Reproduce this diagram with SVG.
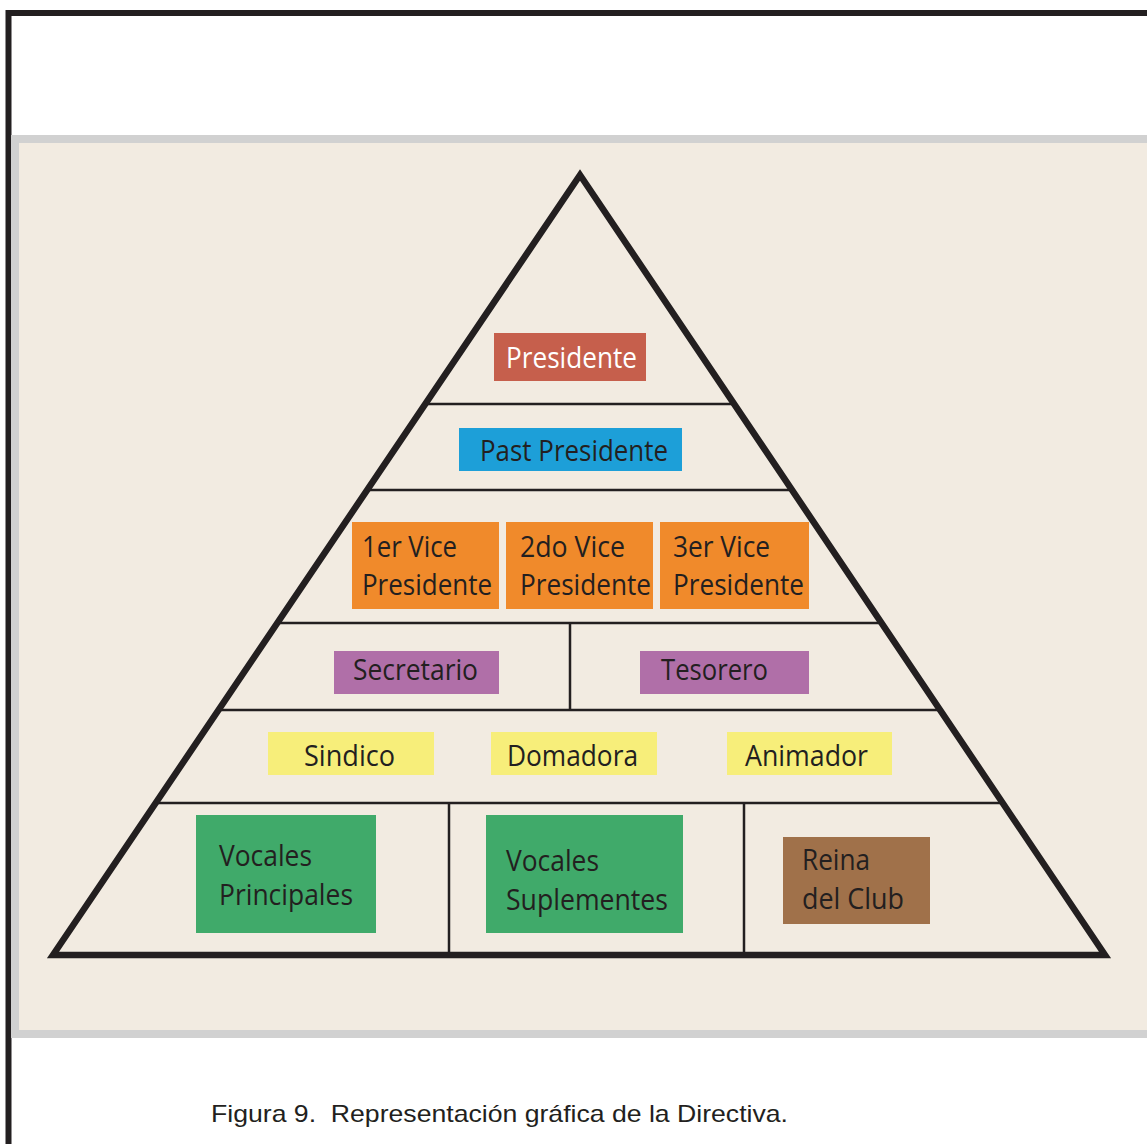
<svg xmlns="http://www.w3.org/2000/svg" width="1147" height="1144" viewBox="0 0 1147 1144">
<style>
.t{font-family:"Open Sans","Noto Sans",sans-serif;font-size:28.5px;fill:#231f20}
.w{fill:#ffffff}
.div{stroke:#231f20;stroke-width:2.5;fill:none}
.cap{font-family:"Liberation Sans",Arial,sans-serif;font-size:24px;fill:#231f20}
</style>
<rect x="0" y="0" width="1147" height="1144" fill="#ffffff"/>
<rect x="8.5" y="13" width="1160" height="1160" fill="#ffffff" stroke="#231f20" stroke-width="6"/>
<rect x="11" y="135" width="1136" height="903" fill="#d1d1d1"/>
<rect x="19" y="143" width="1128" height="887" fill="#f2ebe1"/>
<g id="connectors">
<line class="div" x1="427" y1="404" x2="732" y2="404"/>
<line class="div" x1="369" y1="490" x2="789" y2="490"/>
<line class="div" x1="280" y1="623" x2="879" y2="623"/>
<line class="div" x1="221" y1="710" x2="938" y2="710"/>
<line class="div" x1="158" y1="803" x2="1000" y2="803"/>
<line class="div" x1="570" y1="623" x2="570" y2="710"/>
<line class="div" x1="449" y1="803" x2="449" y2="955"/>
<line class="div" x1="744" y1="803" x2="744" y2="955"/>
<polygon points="580,175 53,955 1105,955" fill="none" stroke="#231f20" stroke-width="6.5" stroke-linejoin="miter"/>
</g>
<g id="presidente"><rect x="494" y="333" width="152" height="48" fill="#c65f4c"/><text class="t w" x="506" y="368" textLength="131" lengthAdjust="spacingAndGlyphs">Presidente</text></g>
<g id="past-presidente"><rect x="459" y="428" width="223" height="43" fill="#1d9fd8"/><text class="t" x="480" y="461" textLength="188" lengthAdjust="spacingAndGlyphs">Past Presidente</text></g>
<g id="vice1"><rect x="352" y="522" width="147" height="87" fill="#f08a2b"/><text class="t" x="362" y="557" textLength="95" lengthAdjust="spacingAndGlyphs">1er Vice</text><text class="t" x="362" y="595" textLength="130" lengthAdjust="spacingAndGlyphs">Presidente</text></g>
<g id="vice2"><rect x="506" y="522" width="147" height="87" fill="#f08a2b"/><text class="t" x="520" y="557" textLength="105" lengthAdjust="spacingAndGlyphs">2do Vice</text><text class="t" x="520" y="595" textLength="131" lengthAdjust="spacingAndGlyphs">Presidente</text></g>
<g id="vice3"><rect x="660" y="522" width="149" height="87" fill="#f08a2b"/><text class="t" x="673" y="557" textLength="97" lengthAdjust="spacingAndGlyphs">3er Vice</text><text class="t" x="673" y="595" textLength="131" lengthAdjust="spacingAndGlyphs">Presidente</text></g>
<g id="secretario"><rect x="334" y="651" width="165" height="43" fill="#b06fa8"/><text class="t" x="353" y="680" textLength="125" lengthAdjust="spacingAndGlyphs">Secretario</text></g>
<g id="tesorero"><rect x="640" y="651" width="169" height="43" fill="#b06fa8"/><text class="t" x="661" y="680" textLength="107" lengthAdjust="spacingAndGlyphs">Tesorero</text></g>
<g id="sindico"><rect x="268" y="732" width="166" height="43" fill="#f7ee7a"/><text class="t" x="304" y="766" textLength="91" lengthAdjust="spacingAndGlyphs">Sindico</text></g>
<g id="domadora"><rect x="491" y="732" width="166" height="43" fill="#f7ee7a"/><text class="t" x="507" y="766" textLength="131" lengthAdjust="spacingAndGlyphs">Domadora</text></g>
<g id="animador"><rect x="727" y="732" width="165" height="43" fill="#f7ee7a"/><text class="t" x="745" y="766" textLength="123" lengthAdjust="spacingAndGlyphs">Animador</text></g>
<g id="vocales-principales"><rect x="196" y="815" width="180" height="118" fill="#40aa6a"/><text class="t" x="219" y="866" textLength="93" lengthAdjust="spacingAndGlyphs">Vocales</text><text class="t" x="219" y="905" textLength="134" lengthAdjust="spacingAndGlyphs">Principales</text></g>
<g id="vocales-suplementes"><rect x="486" y="815" width="197" height="118" fill="#40aa6a"/><text class="t" x="506" y="871" textLength="93" lengthAdjust="spacingAndGlyphs">Vocales</text><text class="t" x="506" y="910" textLength="162" lengthAdjust="spacingAndGlyphs">Suplementes</text></g>
<g id="reina"><rect x="783" y="837" width="147" height="87" fill="#a0714a"/><text class="t" x="802" y="870" textLength="68" lengthAdjust="spacingAndGlyphs">Reina</text><text class="t" x="802" y="909" textLength="102" lengthAdjust="spacingAndGlyphs">del Club</text></g>
<text class="cap" x="211" y="1122" textLength="577" lengthAdjust="spacingAndGlyphs" xml:space="preserve">Figura 9.  Representación gráfica de la Directiva.</text>
</svg>
